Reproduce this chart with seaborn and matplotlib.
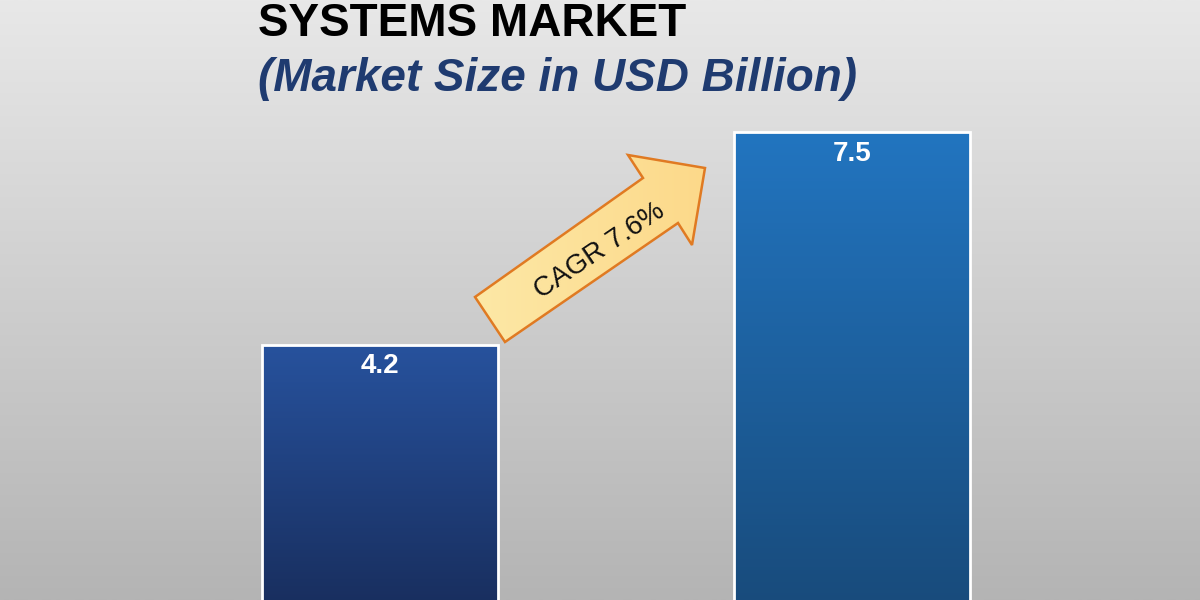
import numpy as np
import pandas as pd
import seaborn as sns
import matplotlib.pyplot as plt
from matplotlib.patches import Polygon
from matplotlib.colors import LinearSegmentedColormap

##############################################

years = ["2023", "2030"]
market_size = [4.2, 7.5]
value_labels = ["4.2", "7.5"]
cagr_label = "CAGR 7.6%"
title = "SYSTEMS MARKET"
subtitle = "(Market Size in USD Billion)"

##############################################

sns.set_theme(style="white")
plt.rcParams["font.family"] = ["Liberation Sans", "DejaVu Sans"]

df = pd.DataFrame({"year": years, "size": market_size})

fig = plt.figure(figsize=(12, 6), dpi=100)

# gray gradient backdrop
bg = fig.add_axes([0, 0, 1, 1], zorder=0)
bg_cmap = LinearSegmentedColormap.from_list("bg", ["#e8e8e8", "#b4b4b4"])
bg.imshow(np.linspace(0, 1, 256).reshape(-1, 1), aspect="auto", cmap=bg_cmap,
          extent=[0, 1, 0, 1], origin="upper")
bg.axis("off")

# bar axes: baseline just under the picture bottom
ax = fig.add_axes([144 / 1200, -16 / 600, 944 / 1200, 616 / 600], zorder=1)
ax.patch.set_alpha(0)
sns.barplot(data=df, x="year", y="size", width=0.5, ax=ax,
            color="#24509a", edgecolor="white", linewidth=2)

# vertical gradient fills for each bar
grads = [("#27529d", "#182d5c"), ("#2275c0", "#184a7a")]
for patch, (top, bottom) in zip(ax.patches, grads):
    x0, y0 = patch.get_x(), patch.get_y()
    w, h = patch.get_width(), patch.get_height()
    cm = LinearSegmentedColormap.from_list("bar", [top, bottom])
    im = ax.imshow(np.linspace(0, 1, 256).reshape(-1, 1), aspect="auto", cmap=cm,
                   extent=[x0, x0 + w, y0, y0 + h], origin="upper", zorder=2)
    im.set_clip_path(patch)
    patch.set_facecolor("none")
    patch.set_zorder(3)

ax.set_xlim(-0.5, 1.5)
ax.set_ylim(0, 616 / 64.5)
ax.axis("off")

for i, (v, lab) in enumerate(zip(market_size, value_labels)):
    ax.annotate(lab, (i, v), xytext=(0, -6), textcoords="offset points",
                ha="center", va="top", color="white", fontsize=20,
                fontweight="bold", zorder=4)

# CAGR arrow (pixel positions, y from top)
pts = [(475, 297), (643, 178), (628, 155), (705, 168), (692, 245), (678, 223), (505, 342)]
pts = [(px / 1200, 1 - py / 600) for px, py in pts]
ov = fig.add_axes([0, 0, 1, 1], zorder=5)
ov.set_xlim(0, 1)
ov.set_ylim(0, 1)
ov.axis("off")
ov.patch.set_alpha(0)
ar_cmap = LinearSegmentedColormap.from_list("ar", ["#fde8a6", "#fcd98a"])
aim = ov.imshow(np.linspace(0, 1, 256).reshape(1, -1), aspect="auto", cmap=ar_cmap,
                extent=[475 / 1200, 705 / 1200, 1 - 342 / 600, 1 - 155 / 600])
aim.set_clip_path(Polygon(pts, closed=True, transform=fig.transFigure))
ov.add_artist(Polygon(pts, closed=True, transform=fig.transFigure, facecolor="none",
                      edgecolor="#e07a22", linewidth=1.8))
fig.text(600 / 1200, 1 - 251 / 600, cagr_label, rotation=34, rotation_mode="anchor",
         ha="center", va="center", fontsize=20, color="#111111", zorder=6)

# titles
fig.text(258 / 1200, 1 - 36 / 600, title, ha="left", va="baseline",
         fontsize=33, fontweight="bold", color="black")
fig.text(258 / 1200, 1 - 91 / 600, subtitle, ha="left", va="baseline",
         fontsize=33, fontweight="bold", fontstyle="italic", color="#1f3b70")

fig.savefig("out.png", dpi=100)
